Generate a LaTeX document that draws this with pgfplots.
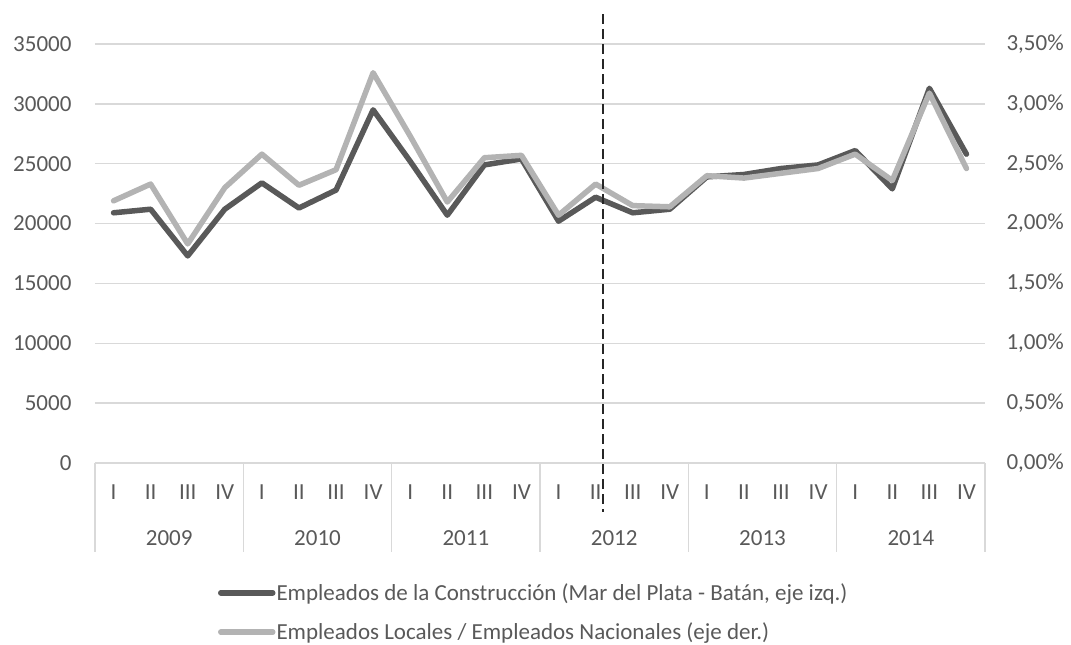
\documentclass[border=0pt]{standalone}
\usepackage{fontspec}
\setmainfont{Carlito}
\usepackage{pgfplots}
\pgfplotsset{compat=1.18}
\definecolor{darkline}{HTML}{595959}
\definecolor{lightline}{HTML}{B3B3B3}
\definecolor{gridc}{HTML}{D9D9D9}
\definecolor{txt}{HTML}{595959}
\newcommand{\fs}{\fontsize{23}{27}\selectfont}
\begin{document}
\begin{tikzpicture}
\pgfplotsset{
  base/.style={scale only axis, width=890pt, height=419pt,
    xmin=-0.5, xmax=23.5, ymin=0, clip=false,
    tick label style={font=\fs, text=txt},
    major tick length=0pt, tick style={draw=none},
    axis line style={draw=none},
    /pgf/number format/assume math mode=true,
    /pgf/number format/1000 sep={},
    scaled ticks=false},
}
\begin{axis}[base, name=ax,
  ymax=35000, ytick={0,5000,...,35000},
  ymajorgrids, grid style={gridc, line width=1.3pt},
  axis y line*=left, axis x line*=bottom,
  yticklabel style={xshift=-20pt},
  xtick={0,...,23},
  xticklabels={I,II,III,IV,I,II,III,IV,I,II,III,IV,I,II,III,IV,I,II,III,IV,I,II,III,IV},
  xticklabel style={yshift=-18pt},
  extra x ticks={1.5,5.5,9.5,13.5,17.5,21.5},
  extra x tick labels={2009,2010,2011,2012,2013,2014},
  extra x tick style={grid=none, xticklabel style={yshift=-46pt}},
]
\draw[gridc, line width=1.3pt] (axis cs:-0.5,0) -- (axis cs:-0.5,-7435);
\draw[gridc, line width=1.3pt] (axis cs:3.5,0) -- (axis cs:3.5,-7435);
\draw[gridc, line width=1.3pt] (axis cs:7.5,0) -- (axis cs:7.5,-7435);
\draw[gridc, line width=1.3pt] (axis cs:11.5,0) -- (axis cs:11.5,-7435);
\draw[gridc, line width=1.3pt] (axis cs:15.5,0) -- (axis cs:15.5,-7435);
\draw[gridc, line width=1.3pt] (axis cs:19.5,0) -- (axis cs:19.5,-7435);
\draw[gridc, line width=1.3pt] (axis cs:23.5,0) -- (axis cs:23.5,-7435);
\addplot[darkline, line width=5.5pt, line join=round, line cap=round] coordinates {
(0,20900) (1,21200) (2,17300) (3,21200)
(4,23400) (5,21300) (6,22800) (7,29500)
(8,25200) (9,20700) (10,24900) (11,25400)
(12,20200) (13,22200) (14,20900) (15,21200)
(16,23900) (17,24100) (18,24600) (19,24900)
(20,26100) (21,22900) (22,31300) (23,25800)};
\end{axis}
\begin{axis}[base,
  ymax=3.5, ytick={0,0.5,...,3.5},
  yticklabels={{0,00\%},{0,50\%},{1,00\%},{1,50\%},{2,00\%},{2,50\%},{3,00\%},{3,50\%}},
  axis y line*=right, axis x line=none,
  yticklabel style={xshift=18pt},
  legend style={at={(0.138,-0.285)}, anchor=north west, draw=none, fill=none,
    font=\fs, text=txt, inner sep=0pt, row sep=19pt,
    nodes={inner sep=1pt}, cells={anchor=west}},
  legend image code/.code={\draw[#1, line cap=round] (0pt,0pt) -- (52pt,0pt);},
]
\addlegendimage{darkline, line width=5.5pt}
\addlegendentry{Empleados de la Construcción (Mar del Plata - Batán, eje izq.)}
\addplot[lightline, line width=5.5pt, line join=round, line cap=round] coordinates {
(0,2.19) (1,2.33) (2,1.83) (3,2.30)
(4,2.58) (5,2.32) (6,2.45) (7,3.26)
(8,2.73) (9,2.18) (10,2.55) (11,2.57)
(12,2.07) (13,2.33) (14,2.15) (15,2.14)
(16,2.40) (17,2.38) (18,2.42) (19,2.46)
(20,2.58) (21,2.36) (22,3.09) (23,2.46)};
\addlegendentry{Empleados Locales / Empleados Nacionales (eje der.)}
\addplot[black!85, line width=1.2pt, dash pattern=on 10pt off 5pt, forget plot] coordinates {(13.2,3.75) (13.2,-0.41)};
\end{axis}
\pgfresetboundingbox
\path[use as bounding box] ([xshift=-95pt,yshift=-182pt]ax.south west) rectangle ([xshift=86pt,yshift=44pt]ax.north east);
\end{tikzpicture}
\end{document}
